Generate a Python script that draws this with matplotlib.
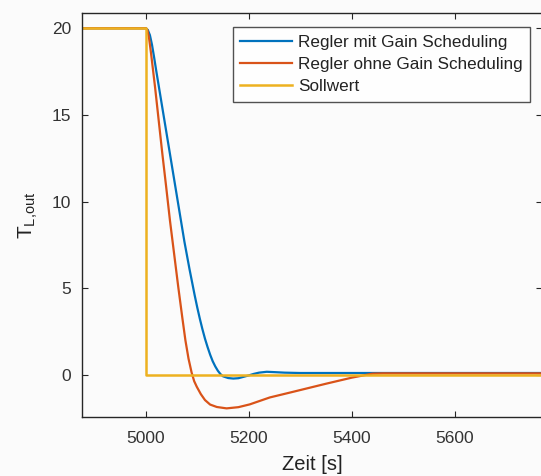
"""
plot.py

Sprungantwort T_L,out mit und ohne Gain Scheduling.
"""
import matplotlib
matplotlib.use("Agg")
import matplotlib.pyplot as plt

# Sollwert
t_soll = [4876, 5000, 5000, 5770]
soll = [20, 20, 0, 0]

# Regler mit Gain Scheduling
t_mit = [4876, 5000, 5004, 5008, 5012, 5016, 5020, 5025, 5030, 5035, 5040, 5045,
         5050, 5055, 5060, 5065, 5070, 5075, 5080, 5085, 5090, 5095, 5100, 5105,
         5110, 5115, 5120, 5125, 5130, 5135, 5140, 5145, 5150, 5160, 5170, 5180,
         5190, 5200, 5210, 5220, 5235, 5250, 5270, 5300, 5400, 5500, 5600, 5770]
mit = [20, 20, 19.9, 19.6, 19.05, 18.35, 17.6, 16.7, 15.8, 14.9, 14.0, 13.1,
       12.2, 11.3, 10.4, 9.5, 8.6, 7.7, 6.9, 6.1, 5.35, 4.6, 3.9, 3.25,
       2.65, 2.1, 1.62, 1.18, 0.8, 0.5, 0.25, 0.06, -0.07, -0.17, -0.2, -0.18,
       -0.1, -0.02, 0.07, 0.14, 0.19, 0.17, 0.14, 0.12, 0.12, 0.12, 0.12, 0.12]

# Regler ohne Gain Scheduling
t_ohne = [4876, 5000, 5003, 5006, 5010, 5018, 5025, 5032, 5039.4, 5047, 5055, 5063,
          5071, 5077, 5083, 5089, 5094, 5099, 5107, 5115, 5125, 5138, 5157, 5180,
          5202, 5241, 5280, 5350, 5400, 5440, 5460, 5770]
ohne = [20, 20, 19.9, 19.5, 18.6, 16.6, 14.7, 12.8, 10.9, 8.9, 7.0, 5.1,
        3.3, 2.0, 0.95, 0.15, -0.35, -0.67, -1.1, -1.44, -1.7, -1.84, -1.92, -1.85,
        -1.69, -1.29, -1.01, -0.5, -0.15, 0.08, 0.1, 0.1]

labels = ["Regler mit Gain Scheduling", "Regler ohne Gain Scheduling", "Sollwert"]
x_ticks = [5000, 5200, 5400, 5600]
y_ticks = [0, 5, 10, 15, 20]

plt.rcParams["font.family"] = ["Liberation Sans", "DejaVu Sans"]
plt.rcParams["mathtext.default"] = "regular"

bg = "#fbfbfb"
dark = "#262626"

fig = plt.figure(figsize=(5.41, 4.76), dpi=100, facecolor=bg)
ax = fig.add_axes([82 / 541, 59.3 / 476, 460 / 541, 403.7 / 476], facecolor=bg)

ax.plot(t_mit, mit, color="#0072BD", lw=1.6, label=labels[0])
ax.plot(t_ohne, ohne, color="#D95319", lw=1.6, label=labels[1])
ax.plot(t_soll, soll, color="#EDB120", lw=1.8, label=labels[2])

ax.set_xlim(4876, 5770)
ax.set_ylim(-2.4, 20.88)
ax.set_xticks(x_ticks)
ax.set_yticks(y_ticks)

for s in ax.spines.values():
    s.set_color(dark)
    s.set_linewidth(1.0)
ax.tick_params(direction="in", top=True, right=True, length=4, width=0.8,
               colors=dark, labelsize=12.5, labelcolor="#333333")
ax.tick_params(axis="x", pad=10.5)
ax.tick_params(axis="y", pad=8)

ax.set_xlabel("Zeit [s]", fontsize=14.5, color="#222222", labelpad=6)
ax.set_ylabel("$T_{L{,}out}$", fontsize=15, color="#222222", labelpad=8)

leg = ax.legend(loc="upper right", bbox_to_anchor=(0.974, 0.965), borderaxespad=0,
                prop={"size": 12.3}, frameon=True, fancybox=False, handlelength=3.0,
                handletextpad=0.35, labelspacing=0.42, borderpad=0.45)
leg.get_frame().set_edgecolor(dark)
leg.get_frame().set_linewidth(1.0)
leg.get_frame().set_facecolor("white")
for txt in leg.get_texts():
    txt.set_color("#222222")

plt.savefig("out.png", dpi=100, facecolor=bg)
plt.close()
